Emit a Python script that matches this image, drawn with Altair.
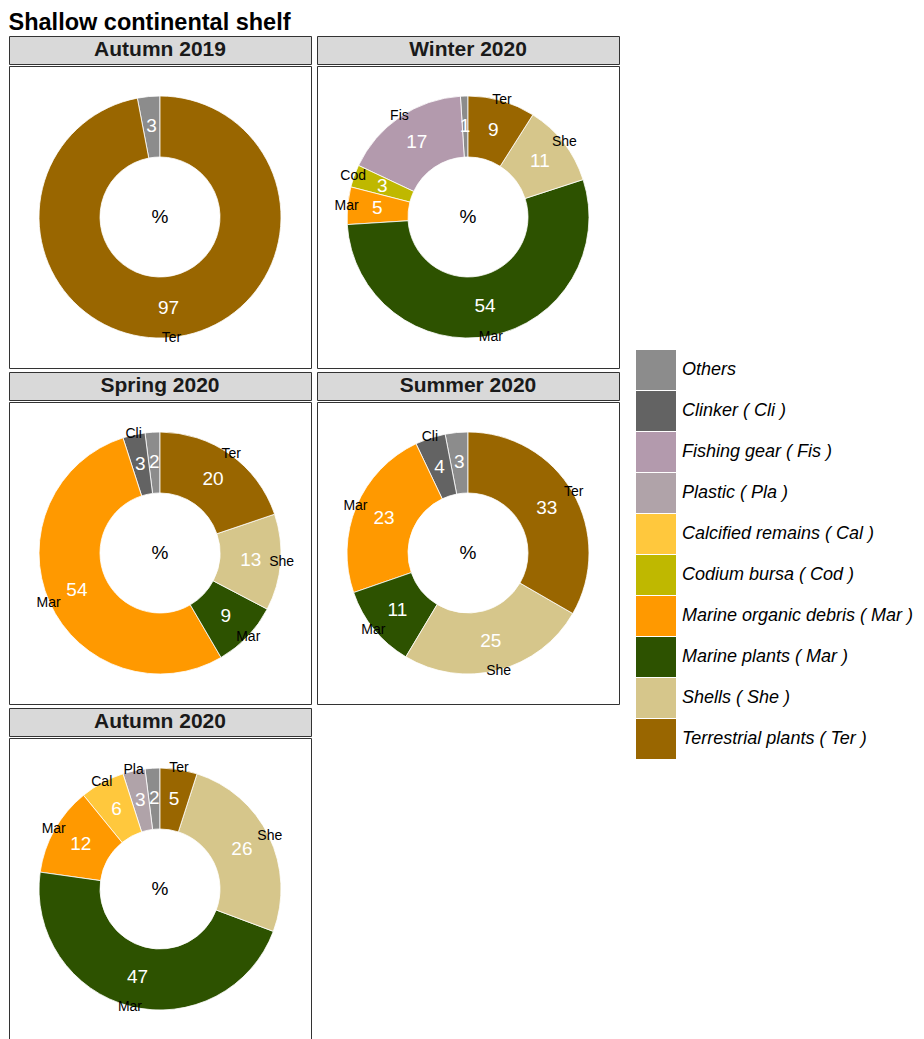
import altair as alt
import pandas as pd

FONT = "Liberation Sans"

seasons = ["Autumn 2019", "Winter 2020", "Spring 2020", "Summer 2020", "Autumn 2020"]
categories = [
    "Others",
    "Clinker ( Cli )",
    "Fishing gear ( Fis )",
    "Plastic ( Pla )",
    "Calcified remains ( Cal )",
    "Codium bursa ( Cod )",
    "Marine organic debris ( Mar )",
    "Marine plants ( Mar )",
    "Shells ( She )",
    "Terrestrial plants ( Ter )",
]
abbrevs = ["", "Cli", "Fis", "Pla", "Cal", "Cod", "Mar", "Mar", "She", "Ter"]
colors = ["#8c8c8c", "#636363", "#b39aad", "#b0a3a9", "#ffc83d",
          "#bfb800", "#ff9900", "#2d5200", "#d6c68b", "#996600"]

# values aligned with categories (0 = absent)
autumn_2019 = [3, 0, 0, 0, 0, 0, 0, 0, 0, 97]
winter_2020 = [1, 0, 17, 0, 0, 3, 5, 54, 11, 9]
spring_2020 = [2, 3, 0, 0, 0, 0, 54, 9, 13, 20]
summer_2020 = [3, 4, 0, 0, 0, 0, 23, 11, 25, 33]
autumn_2020 = [2, 0, 0, 3, 6, 0, 12, 47, 26, 5]
season_values = [autumn_2019, winter_2020, spring_2020, summer_2020, autumn_2020]

rows = []
for s, vals in zip(seasons, season_values):
    for i, (c, a, v) in enumerate(zip(categories, abbrevs, vals)):
        if v > 0:
            rows.append({"season": s, "category": c, "abbr": a, "value": v,
                         "order": len(categories) - 1 - i})
df = pd.DataFrame(rows)

color = alt.Color(
    "category:N",
    scale=alt.Scale(domain=categories, range=colors),
    title=None,
    legend=alt.Legend(
        orient="none", legendX=627, legendY=314,
        symbolType="square", symbolSize=1600, symbolStrokeWidth=0,
        symbolOpacity=1, rowPadding=1, labelFontSize=18,
        labelFontStyle="italic", labelFont=FONT, labelColor="black",
        labelOffset=6, labelLimit=400, padding=0,
    ),
)

PW = 302
PH = 302
SH = 28


def panel(s):
    base = alt.Chart(df).transform_filter(alt.datum.season == s).encode(
        theta=alt.Theta("value:Q", stack=True),
        order=alt.Order("order:Q", sort="ascending"),
        detail="category:N",
    )
    arc = base.mark_arc(innerRadius=60, outerRadius=121, stroke="white",
                        strokeWidth=0.8).encode(color=color)
    num = base.mark_text(radius=91, fontSize=19, color="white",
                         font=FONT).encode(text="value:Q")
    lab = base.mark_text(radius=122, fontSize=14, color="black",
                         font=FONT).encode(text="abbr:N")
    pct = alt.Chart(pd.DataFrame({"t": ["%"]})).mark_text(
        fontSize=19, color="black", font=FONT).encode(text="t:N")
    body = alt.layer(arc, num, lab, pct).properties(
        width=PW, height=PH,
        view=alt.ViewBackground(stroke="#333333", strokeWidth=1, fill="white"),
    )
    strip = alt.Chart(pd.DataFrame({"season": [s]})).mark_text(
        fontSize=21, fontWeight="bold", color="#1a1a1a", font=FONT
    ).encode(text="season:N").properties(
        width=PW, height=SH,
        view=alt.ViewBackground(fill="#d9d9d9", stroke="#333333", strokeWidth=1),
    )
    return alt.vconcat(strip, body, spacing=0)


p = [panel(s) for s in seasons]
grid = alt.vconcat(
    alt.hconcat(p[0], p[1], spacing=4),
    alt.hconcat(p[2], p[3], spacing=4),
    alt.hconcat(p[4], spacing=4),
    spacing=2,
)

chart = grid.properties(
    title=alt.TitleParams("Shallow continental shelf", anchor="start",
                          fontSize=23.5, fontWeight="bold", font=FONT,
                          color="black", offset=1),
    padding={"top": 3, "left": 0, "right": 0, "bottom": 0},
).configure(font=FONT)

chart.save("out.html", embed_options={"renderer": "svg", "actions": False})
